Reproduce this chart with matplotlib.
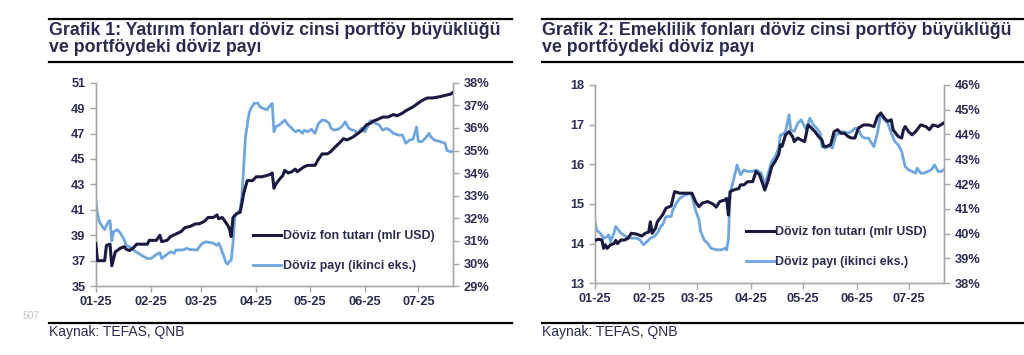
import numpy as np
import pandas as pd
import matplotlib
matplotlib.use('Agg')
import matplotlib.pyplot as plt
import matplotlib.dates as mdates
from matplotlib.lines import Line2D
from matplotlib.ticker import FuncFormatter

plt.rcParams['font.family'] = ['Liberation Sans', 'DejaVu Sans']

START = pd.Timestamp('2025-01-01')

# Grafik 1 - yatirim fonlari (gun: 01.01.2025'ten itibaren)
g1_fon_days = [0, 1, 2, 4, 5, 6, 8, 9, 11, 14, 16, 17, 19, 21, 23, 26, 29, 30, 34, 36,
               37, 40, 42, 45, 48, 50, 53, 56, 58, 61, 63, 66, 68, 69, 71, 73, 74, 75, 76, 77,
               79, 81, 82, 83, 85, 87, 88, 90, 93, 96, 98, 99, 100, 101, 103, 105, 106, 108, 110, 112,
               113, 115, 117, 119, 121, 123, 125, 127, 130, 132, 134, 137, 139, 141, 144, 146, 149, 152, 154, 156,
               158, 161, 164, 167, 169, 172, 174, 178, 180, 183, 186, 189, 193, 196, 199, 200]
g1_fon_usd = [38.35, 37.0, 37.0, 37.0, 37.0, 38.2, 38.3, 36.6, 37.7, 38.0, 38.1, 37.9, 37.8, 38.0, 38.3, 38.3, 38.3, 38.6, 38.6, 39.0,
              38.5, 38.6, 38.9, 39.1, 39.3, 39.6, 39.7, 39.9, 39.9, 40.1, 40.4, 40.4, 40.6, 40.3, 40.4, 40.0, 39.8, 39.5, 38.9, 40.4,
              40.7, 40.8, 41.5, 42.3, 43.3, 43.3, 43.3, 43.6, 43.6, 43.7, 43.8, 43.9, 42.7, 43.0, 43.4, 43.7, 44.1, 43.9, 44.0, 44.2,
              44.0, 44.2, 44.4, 44.5, 44.5, 44.5, 45.0, 45.4, 45.4, 45.6, 45.9, 46.3, 46.6, 46.5, 46.7, 46.9, 47.2, 47.7, 47.8, 48.0,
              48.1, 48.3, 48.3, 48.5, 48.4, 48.6, 48.8, 49.1, 49.3, 49.6, 49.8, 49.8, 49.9, 50.0, 50.1, 50.2]

g1_pay_days = [0, 1, 2, 4, 5, 7, 8, 9, 10, 12, 14, 16, 17, 19, 21, 23, 25, 27, 29, 31,
               34, 36, 37, 39, 42, 44, 45, 49, 51, 53, 57, 58, 60, 62, 64, 66, 68, 69, 70, 71,
               72, 73, 74, 75, 76, 77, 78, 79, 81, 82, 84, 86, 87, 89, 91, 92, 94, 96, 98, 99,
               100, 101, 103, 105, 106, 108, 110, 112, 114, 116, 117, 119, 121, 123, 125, 127, 129, 131, 132, 134,
               136, 138, 140, 142, 144, 145, 147, 149, 151, 153, 154, 156, 157, 159, 161, 163, 165, 167, 170, 172,
               174, 176, 178, 180, 181, 183, 185, 187, 188, 190, 193, 196, 197, 199, 200]
g1_pay_pct = [32.8, 32.2, 31.85, 31.6, 31.5, 31.85, 31.9, 31.0, 31.4, 31.5, 31.33, 31.04, 30.8, 30.74, 30.6, 30.5, 30.4, 30.3, 30.22, 30.22,
              30.4, 30.48, 30.22, 30.35, 30.52, 30.45, 30.6, 30.6, 30.67, 30.62, 30.6, 30.74, 30.9, 30.96, 30.93, 30.9, 30.8, 30.9, 30.74, 30.5,
              30.3, 30.04, 29.98, 30.1, 30.15, 30.9, 32.07, 32.2, 32.37, 32.96, 35.6, 36.64, 36.86, 37.09, 37.1, 36.94, 36.86, 36.8, 37.0, 37.08,
              35.83, 36.05, 36.13, 36.27, 36.35, 36.13, 35.98, 35.83, 35.9, 35.76, 35.9, 35.83, 35.94, 35.76, 36.2, 36.35, 36.32, 36.2, 35.98, 35.9,
              35.94, 36.05, 36.27, 35.98, 35.9, 35.9, 35.76, 35.98, 35.83, 36.13, 36.32, 36.27, 36.2, 36.13, 35.9, 35.98, 35.9, 35.76, 35.68, 35.68,
              35.32, 35.46, 35.5, 36.05, 35.4, 35.4, 35.55, 35.76, 35.6, 35.46, 35.4, 35.32, 35.0, 34.95, 34.95]

# Grafik 2 - emeklilik fonlari
g2_fon_days = [0, 2, 4, 5, 6, 7, 9, 11, 12, 13, 15, 17, 19, 21, 24, 27, 29, 31, 32, 33,
               35, 36, 39, 41, 44, 45, 46, 49, 53, 56, 58, 60, 62, 65, 68, 70, 72, 75, 76, 77,
               78, 80, 83, 84, 86, 88, 91, 93, 95, 97, 98, 100, 102, 104, 106, 107, 108, 110, 112, 114,
               115, 117, 119, 121, 123, 125, 127, 129, 131, 132, 134, 136, 138, 140, 142, 144, 146, 148, 150, 152,
               155, 158, 161, 163, 165, 167, 169, 171, 172, 175, 177, 178, 179, 181, 183, 185, 188, 191, 193, 195,
               198, 201]
g2_fon_usd = [14.08, 14.11, 14.09, 13.88, 13.97, 13.88, 13.97, 14.0, 14.08, 14.0, 14.09, 14.09, 14.13, 14.26, 14.24, 14.19, 14.26, 14.29, 14.55, 14.26,
              14.39, 14.55, 14.72, 14.89, 14.95, 15.14, 15.31, 15.27, 15.27, 15.27, 15.06, 14.93, 15.02, 15.06, 15.0, 14.92, 15.06, 15.1, 15.14, 14.72,
              15.31, 15.35, 15.39, 15.48, 15.48, 15.56, 15.56, 15.82, 15.73, 15.48, 15.35, 15.6, 15.94, 16.07, 16.24, 16.49, 16.45, 16.74, 16.82, 16.7,
              16.57, 16.66, 16.61, 16.57, 16.99, 16.91, 16.82, 16.7, 16.61, 16.45, 16.45, 16.49, 16.82, 16.87, 16.78, 16.78, 16.7, 16.66, 16.66, 16.91,
              16.99, 16.99, 16.95, 17.2, 17.29, 17.16, 17.08, 17.12, 16.87, 16.7, 16.66, 16.87, 16.95, 16.82, 16.74, 16.82, 16.99, 16.95, 16.87, 16.99,
              16.95, 17.03]

g2_pay_days = [0, 1, 3, 5, 7, 8, 9, 11, 12, 15, 18, 21, 24, 26, 28, 30, 32, 34, 36, 38,
               39, 41, 44, 45, 47, 49, 52, 55, 56, 58, 60, 61, 63, 65, 67, 70, 73, 75, 76, 77,
               78, 80, 82, 83, 84, 86, 88, 91, 93, 96, 98, 100, 102, 104, 106, 107, 108, 110, 112, 113,
               115, 117, 119, 121, 122, 124, 126, 128, 130, 131, 133, 135, 137, 139, 141, 143, 146, 148, 150, 152,
               154, 156, 158, 159, 161, 163, 165, 167, 169, 171, 173, 175, 177, 179, 180, 181, 183, 185, 186, 188,
               190, 192, 194, 196, 198, 200, 201]
g2_pay_pct = [40.49, 40.15, 40.02, 39.82, 39.88, 39.95, 39.68, 40.02, 40.29, 40.02, 39.88, 39.82, 39.82, 39.75, 39.55, 39.68, 39.82, 39.88, 40.02, 40.29,
              40.35, 40.69, 40.69, 40.96, 41.23, 41.43, 41.56, 41.63, 41.5, 40.96, 40.56, 40.09, 39.75, 39.62, 39.41, 39.35, 39.35, 39.41, 39.35, 39.75,
              41.63, 42.17, 42.77, 42.57, 42.37, 42.57, 42.51, 42.51, 42.57, 42.44, 41.97, 42.44, 42.91, 43.11, 43.45, 43.98, 43.98, 44.12, 44.79, 44.19,
              44.12, 44.45, 44.59, 44.32, 44.19, 44.66, 44.39, 44.25, 44.05, 43.51, 43.45, 43.58, 43.45, 43.98, 44.05, 44.12, 44.05, 44.12, 44.25, 44.19,
              43.92, 43.85, 43.85, 43.72, 43.51, 44.05, 44.86, 44.59, 44.45, 44.05, 43.72, 43.58, 43.31, 42.71, 42.64, 42.57, 42.51, 42.44, 42.64, 42.44,
              42.44, 42.51, 42.57, 42.77, 42.51, 42.51, 42.57]

TITLE1 = 'Grafik 1: Yatırım fonları döviz cinsi portföy büyüklüğü\nve portföydeki döviz payı'
TITLE2 = 'Grafik 2: Emeklilik fonları döviz cinsi portföy büyüklüğü\nve portföydeki döviz payı'
LABEL_FON = 'Döviz fon tutarı (mlr USD)'
LABEL_PAY = 'Döviz payı (ikinci eks.)'
SOURCE = 'Kaynak: TEFAS, QNB'

DARK = '#1a1a40'
LIGHT = '#6fa6dd'
TXT = '#2b2b50'
SPINE = '#a8a8a8'


def to_dates(days):
    return START + pd.to_timedelta(days, unit='D')


def draw_panel(rect, fon_days, fon, pay_days, pay, ylim1, ystep1, ylim2, xend, leg_anchor):
    ax = fig.add_axes(rect)
    ax2 = ax.twinx()
    ax.plot(to_dates(fon_days), fon, color=DARK, lw=2.2, zorder=3)
    ax2.plot(to_dates(pay_days), pay, color=LIGHT, lw=2.0, zorder=2)
    ax.set_zorder(ax2.get_zorder() + 1)
    ax.patch.set_visible(False)

    ax.set_yticks(np.arange(ylim1[0], ylim1[1] + 0.01, ystep1))
    ax2.set_yticks(np.arange(ylim2[0], ylim2[1] + 0.01, 1))
    ax.set_ylim(ylim1[0], ylim1[1])
    ax2.set_ylim(ylim2[0], ylim2[1])
    ax2.yaxis.set_major_formatter(FuncFormatter(lambda v, p: f'{v:.0f}%'))
    ax.set_xlim(START, START + pd.Timedelta(days=xend))
    ax.xaxis.set_major_locator(mdates.MonthLocator())
    ax.xaxis.set_major_formatter(mdates.DateFormatter('%m-%y'))

    for a in (ax, ax2):
        for s in a.spines.values():
            s.set_color(SPINE)
            s.set_linewidth(1.0)
        a.spines['top'].set_visible(False)
        a.tick_params(colors=SPINE, labelcolor=TXT, labelsize=9.2, length=4, width=1.0)
        for lbl in a.get_xticklabels() + a.get_yticklabels():
            lbl.set_fontweight('bold')
    ax.tick_params(axis='x', pad=3)

    handles = [Line2D([], [], color=DARK, lw=2.2), Line2D([], [], color=LIGHT, lw=2.0)]
    leg = ax.legend(handles, [LABEL_FON, LABEL_PAY], loc='lower right', bbox_to_anchor=leg_anchor,
                    frameon=False, handlelength=2.3, handletextpad=0.1, labelspacing=1.45,
                    prop={'weight': 'bold', 'size': 8.9})
    for t in leg.get_texts():
        t.set_color(TXT)
    return ax, ax2


fig = plt.figure(figsize=(10.24, 3.55), dpi=100)

draw_panel([0.0935, 0.194, 0.349, 0.573], g1_fon_days, g1_fon_usd, g1_pay_days, g1_pay_pct,
           (35, 51), 2, (29, 38), 200.5, (0.978, 0.015))
draw_panel([0.581, 0.202, 0.341, 0.559], g2_fon_days, g2_fon_usd, g2_pay_days, g2_pay_pct,
           (13, 18), 1, (38, 46), 201.5, (0.983, 0.02))

# basliklar ve cizgiler
for x0, x1, title in [(49, 512, TITLE1), (542, 1024, TITLE2)]:
    fig.add_artist(Line2D([x0 / 1024, x1 / 1024], [1 - 19 / 355] * 2, color='black', lw=1.6))
    fig.add_artist(Line2D([x0 / 1024, x1 / 1024], [1 - 62 / 355] * 2, color='black', lw=1.6))
    fig.add_artist(Line2D([x0 / 1024, x1 / 1024], [1 - 323 / 355] * 2, color='black', lw=1.6))
    fig.text(x0 / 1024, 1 - 22 / 355, title, ha='left', va='top', fontsize=12.8, fontweight='bold',
             color=TXT, linespacing=0.98)
    fig.text(x0 / 1024, 1 - 325 / 355, SOURCE, ha='left', va='top', fontsize=10, color=TXT)

fig.text(23 / 1024, 1 - 316 / 355, '507', ha='left', va='center', fontsize=7.5, color='#c8c8c8')

plt.savefig('out.png', dpi=100)
